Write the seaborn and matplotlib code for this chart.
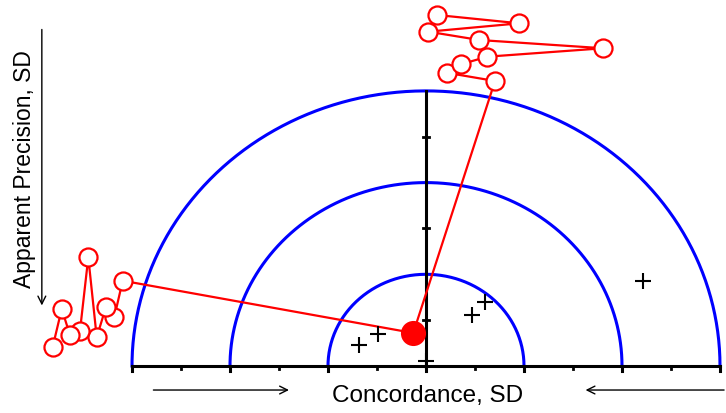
import seaborn as sns
import matplotlib.pyplot as plt
import pandas as pd
import numpy as np

# data (SD units, center of the semicircles at 0,0)
radii = [1, 2, 3]
x_ticks_major = [-3, -2, -1, 0, 1, 2, 3]
x_ticks_minor = [-2.5, -1.5, -0.5, 0.5, 1.5, 2.5]
y_ticks = [0.5, 1.5, 2.5]

mean_x = -0.13
mean_y = 0.36

plus_x = [-0.68, -0.49, 0.47, 0.60, 0.0, 2.21]
plus_y = [0.23, 0.35, 0.56, 0.70, 0.05, 0.93]

left_x = [-3.095, -3.181, -3.265, -3.360, -3.446, -3.531, -3.633, -3.717, -3.809]
left_y = [0.930, 0.531, 0.647, 0.313, 1.185, 0.382, 0.338, 0.622, 0.210]

top_x = [0.704, 0.211, 0.354, 0.626, 1.809, 0.544, 0.023, 0.952, 0.109]
top_y = [3.108, 3.198, 3.290, 3.373, 3.465, 3.555, 3.646, 3.737, 3.828]

plt.rcParams['font.family'] = ['Liberation Sans', 'DejaVu Sans']

fig = plt.figure(figsize=(7.26, 4.13), dpi=100)
ax = fig.add_axes([0, 0, 1, 1])
ax.set_xlim(-426 / 98, 300 / 98)
ax.set_ylim(-47 / 91.7, 366 / 91.7)
ax.axis('off')

#semicircles
t = np.linspace(0, np.pi, 300)
for r in radii:
    ax.plot(r * np.cos(t), r * np.sin(t), color='#0000ff', lw=2.2, zorder=1)

#axes lines
ax.plot([-3, 3], [0, 0], color='black', lw=2.2, zorder=2)
ax.plot([0, 0], [0, 3], color='black', lw=2.2, zorder=2)
for xt in x_ticks_major:
    ax.plot([xt, xt], [0, -0.05], color='black', lw=2.2, zorder=2)
for xt in x_ticks_minor:
    ax.plot([xt, xt], [0, -0.03], color='black', lw=2, zorder=2)
for yt in y_ticks:
    ax.plot([-0.035, 0.035], [yt, yt], color='black', lw=2, zorder=2)

#connectors from the mean
ax.plot([mean_x, left_x[0]], [mean_y, left_y[0]], color='red', lw=1.6, zorder=3)
ax.plot([mean_x, top_x[0]], [mean_y, top_y[0]], color='red', lw=1.6, zorder=3)

mk = dict(marker='o', markersize=13, markerfacecolor='white',
          markeredgecolor='red', markeredgewidth=1.6)
sns.lineplot(x=left_x, y=left_y, sort=False, color='red', lw=1.6, ax=ax,
             zorder=4, **mk)
sns.lineplot(x=top_x, y=top_y, sort=False, color='red', lw=1.6, ax=ax,
             zorder=4, **mk)

sns.scatterplot(x=plus_x, y=plus_y, marker='+', s=120, color='black',
                linewidth=1.5, ax=ax, zorder=5)
sns.scatterplot(x=[mean_x], y=[mean_y], s=280, color='red', edgecolor='red',
                ax=ax, zorder=6)

#labels and arrows
ax.text(0.015, -0.393, 'Concordance, SD', ha='center', va='baseline',
        fontsize=17.5)
ax.annotate('', xy=(-1.37, -0.262), xytext=(-2.81, -0.262),
            arrowprops=dict(arrowstyle='->', color='black', lw=1,
                            mutation_scale=14))
ax.annotate('', xy=(1.60, -0.262), xytext=(3.07, -0.262),
            arrowprops=dict(arrowstyle='->', color='black', lw=1,
                            mutation_scale=14))
ax.annotate('', xy=(-3.92, 0.63), xytext=(-3.92, 3.70),
            arrowprops=dict(arrowstyle='->', color='black', lw=1,
                            mutation_scale=14))
ax.text(-4.10, 2.15, 'Apparent Precision, SD', ha='center', va='center',
        rotation=90, fontsize=16.5)

fig.savefig('out.png', dpi=100, facecolor='white')
